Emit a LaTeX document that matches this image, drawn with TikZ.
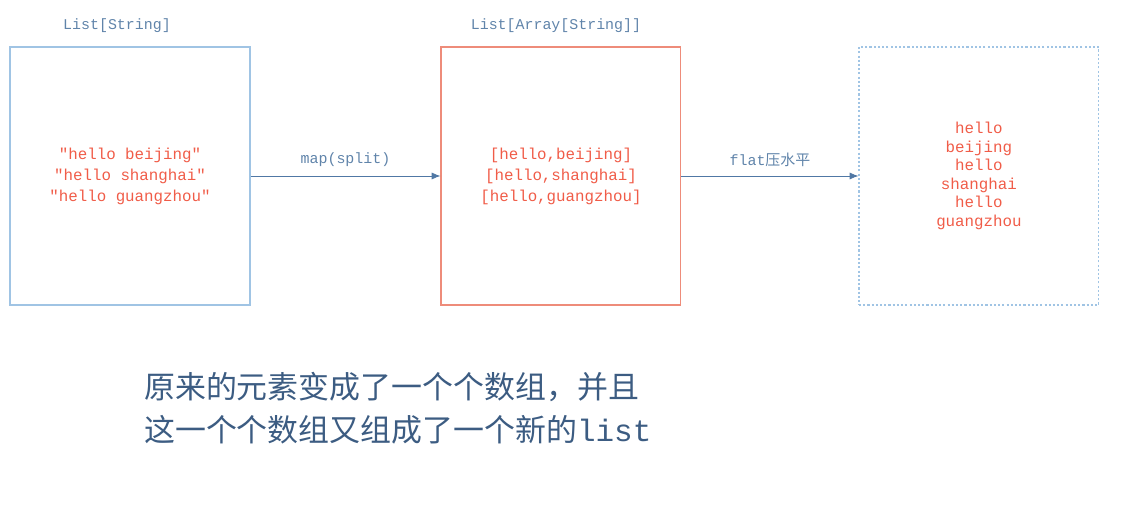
\documentclass[tikz,border=0pt]{standalone}
\usepackage{fontspec}
\setmonofont{Liberation Mono}
\newfontfamily\cjk{Noto Sans CJK SC}
\usetikzlibrary{arrows.meta, positioning}
\definecolor{boxblue}{RGB}{160, 196, 228}
\definecolor{boxsalmon}{RGB}{238, 140, 122}
\definecolor{itemred}{RGB}{240, 92, 72}
\definecolor{labelblue}{RGB}{96, 132, 170}
\definecolor{linkblue}{RGB}{80, 120, 165}
\definecolor{notedark}{RGB}{60, 92, 130}

\begin{document}
\begin{tikzpicture}[x=0.02cm, y=-0.02cm,
            listbox/.style={draw=boxblue, semithick, minimum width=4.8cm, minimum height=5.16cm, align=center, text=itemred, font=\ttfamily\fontsize{9}{12}\selectfont},
            typelabel/.style={text=labelblue, font=\ttfamily\fontsize{8.5}{10}\selectfont},
            link/.style={-{Latex[length=5pt, width=4pt]}, linkblue, thin}
        ]
            \useasboundingbox (0,0) rectangle (1132,506);
            % three stages
            \node[listbox] (strings) at (130,176) {"hello beijing"\\"hello shanghai"\\"hello guangzhou"};
            \node[listbox, draw=boxsalmon, right=3.8cm of strings] (arrays) {{[hello,beijing]}\\{[hello,shanghai]}\\{[hello,guangzhou]}};
            \node[listbox, dash pattern=on 1.2pt off 1.2pt, right=3.54cm of arrays, font=\ttfamily\fontsize{9}{10.5}\selectfont] (flat) {hello\\beijing\\hello\\shanghai\\hello\\guangzhou};

            \node[typelabel, above=0.16cm of strings.north, xshift=-0.26cm] (stringsType) {List[String]};
            \node[typelabel, above=0.16cm of arrays.north, xshift=-0.1cm] (arraysType) {List[Array[String]]};

            \draw[link] (strings) -- node[above=2pt, typelabel] {map(split)} (arrays);
            \draw[link] (arrays) -- node[above=2pt, typelabel] {flat{\cjk 压水平}} (flat);

            \node[anchor=north west, text=notedark, align=left, font=\cjk\fontsize{17.6}{24.4}\selectfont] (note) at (138,366) {原来的元素变成了一个个数组，并且\\这一个个数组又组成了一个新的{\ttfamily list}};
        \end{tikzpicture}
\end{document}
